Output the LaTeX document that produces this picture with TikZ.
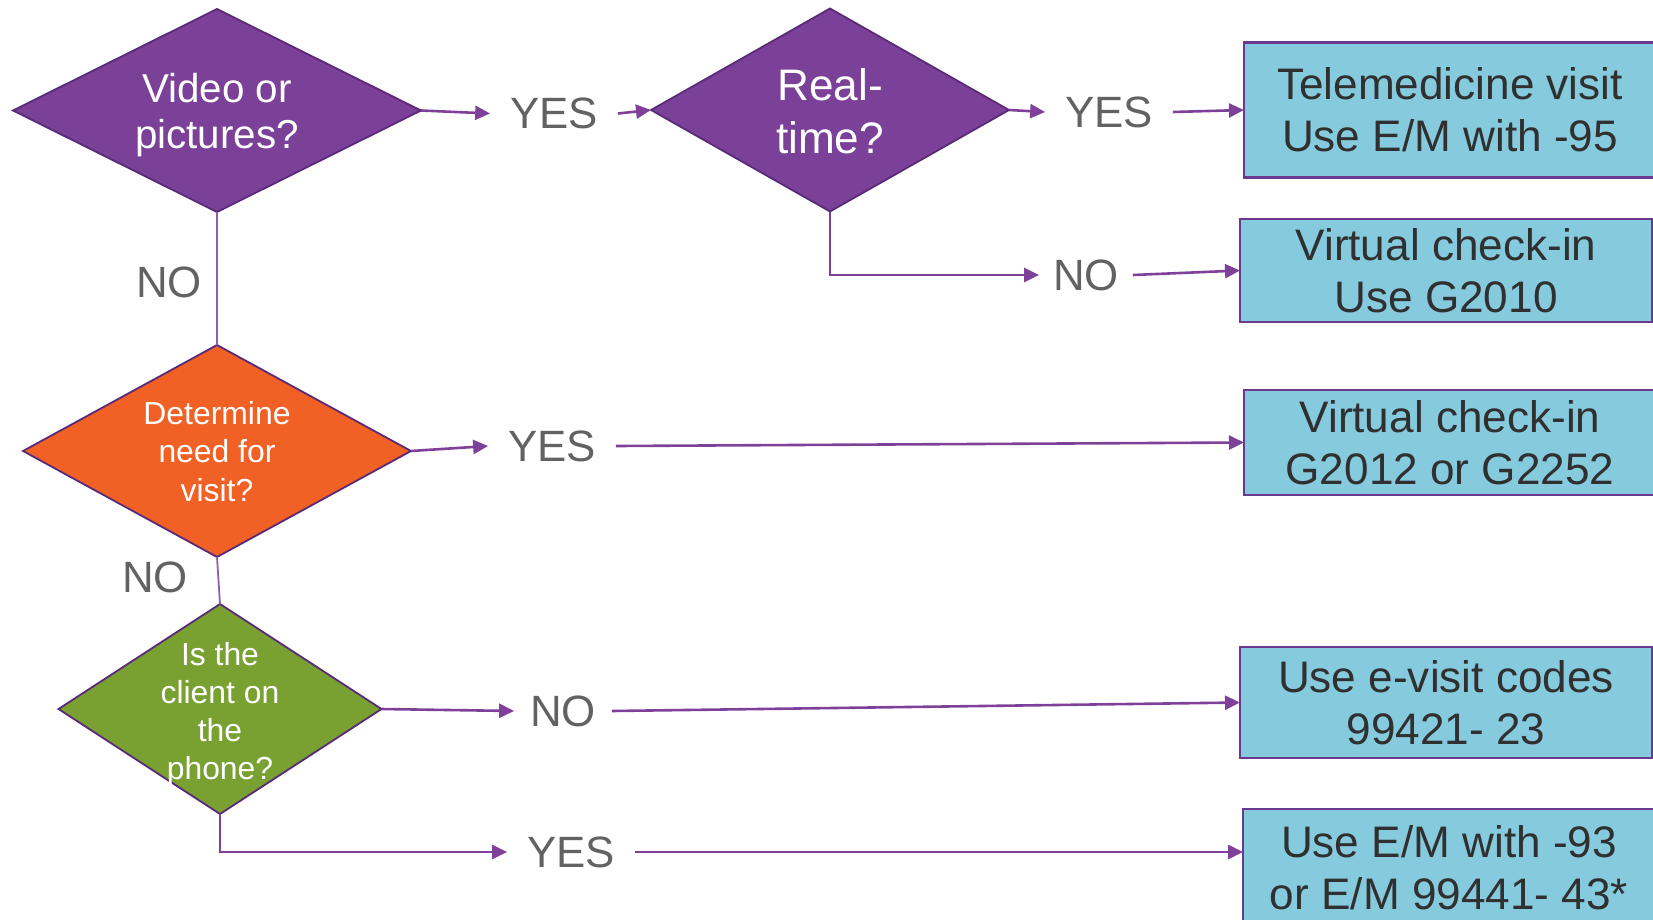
\documentclass[tikz,border=0pt]{standalone}
\usepackage{fontspec}
\setmainfont{Liberation Sans}
\usetikzlibrary{shapes.geometric,arrows.meta,positioning}
\definecolor{qpurple}{RGB}{123,64,152}
\definecolor{qorange}{RGB}{241,96,36}
\definecolor{qgreen}{RGB}{120,161,50}
\definecolor{qedge}{RGB}{88,42,120}
\definecolor{codeblue}{RGB}{134,202,222}
\definecolor{codeedge}{RGB}{106,56,140}
\definecolor{flowline}{RGB}{127,64,154}
\definecolor{answergray}{RGB}{98,98,98}
\definecolor{codetext}{RGB}{48,48,48}

\begin{document}
\begin{tikzpicture}[
    x=1bp, y=-1bp,
    decision/.style={diamond, draw=qedge, line width=1.8bp, inner sep=0pt, outer sep=0pt},
    qtext/.style={text=white, align=center, inner sep=0pt},
    codebox/.style={rectangle, draw=codeedge, fill=codeblue, line width=2.5bp,
                    minimum width=412bp, anchor=west, align=center, outer sep=0pt,
                    text=codetext, font=\fontsize{44.3}{52}\selectfont},
    answer/.style={text=answergray, font=\fontsize{44}{52}\selectfont,
                   inner xsep=20bp, inner ysep=0pt, outer sep=0pt},
    arrow/.style={-{Triangle[length=15bp,width=14bp]}, line width=2.6bp, draw=flowline},
    link/.style={line width=1.8bp, draw=flowline!85}
]
\useasboundingbox (0,0) rectangle (1653,919);
\clip (0,0) rectangle (1653,919);

% Decisions
\node[decision, fill=qpurple, minimum width=408bp, minimum height=203bp] (video) at (217,110.5) {};
\node[qtext, font=\fontsize{40.5}{46.7}\selectfont] (videotxt) at (217,115) {Video or\\pictures?};
\node[decision, fill=qpurple, minimum width=358bp, minimum height=203bp] (real) at (830,110) {};
\node[qtext, font=\fontsize{44.3}{53}\selectfont] (realtxt) at (830,111) {Real-\\time?};
\node[decision, fill=qorange, minimum width=388bp, minimum height=212bp] (need) at (217,451) {};
\node[qtext, font=\fontsize{32}{38.5}\selectfont] (needtxt) at (217,451.5) {Determine\\need for\\visit?};
\node[decision, fill=qgreen, minimum width=323bp, minimum height=210bp] (phone) at (220,709) {};
\node[qtext, font=\fontsize{32}{38}\selectfont] (phonetxt) at (220,714) {Is the\\client on\\the\\phone?};

% Codes
\node[codebox, minimum height=135bp] (tele)    at (1244,110)   {Telemedicine visit\\Use E/M with -95};
\node[codebox, minimum height=103bp] (checkin) at (1240,270.5) {Virtual check-in\\Use G2010};
\node[codebox, minimum height=105bp] (remote)  at (1244,442.5) {Virtual check-in\\G2012 or G2252};
\node[codebox, minimum height=111bp] (evisit)  at (1240,702.5) {Use e-visit codes\\99421- 23};
\node[codebox, minimum height=118bp] (audio)   at (1243,868)   {Use E/M with -93\\or E/M 99441- 43*};

% Answers
\node[answer] (yesvid)   at (554,113.5) {YES};
\node[answer] (yesreal)  at (1109,112)  {YES};
\node[answer, inner xsep=14bp] (noreal) at (1086,275) {NO};
\node[answer] (novid)    at (169,282.5) {NO};
\node[answer] (yesneed)  at (552,446)   {YES};
\node[answer] (noneed)   at (155,577)   {NO};
\node[answer, inner xsep=16bp] (nophone) at (563,711) {NO};
\node[answer] (yesphone) at (571,852)   {YES};

% Video row
\draw[arrow] (video.east) -- (yesvid.west);
\draw[arrow] (yesvid.east) -- (real.west);
\draw[arrow] (real.east) -- (yesreal.west);
\draw[arrow] (yesreal.east) -- (tele.west);
\draw[arrow] (real.south) |- (noreal.west);
\draw[arrow] (noreal.east) -- (checkin.west);

% Left column
\draw[link] (video.south) -- (need.north);
\draw[link] (need.south) -- (phone.north);
\draw[arrow] (need.east) -- (yesneed.west);
\draw[arrow] (yesneed.east) -- (remote.west);
\draw[arrow] (phone.east) -- (nophone.west);
\draw[arrow] (nophone.east) -- (evisit.west);
\draw[arrow] (phone.south) |- (yesphone.west);
\draw[arrow] (yesphone.east) -- (yesphone.east -| audio.west);

\end{tikzpicture}
\end{document}
